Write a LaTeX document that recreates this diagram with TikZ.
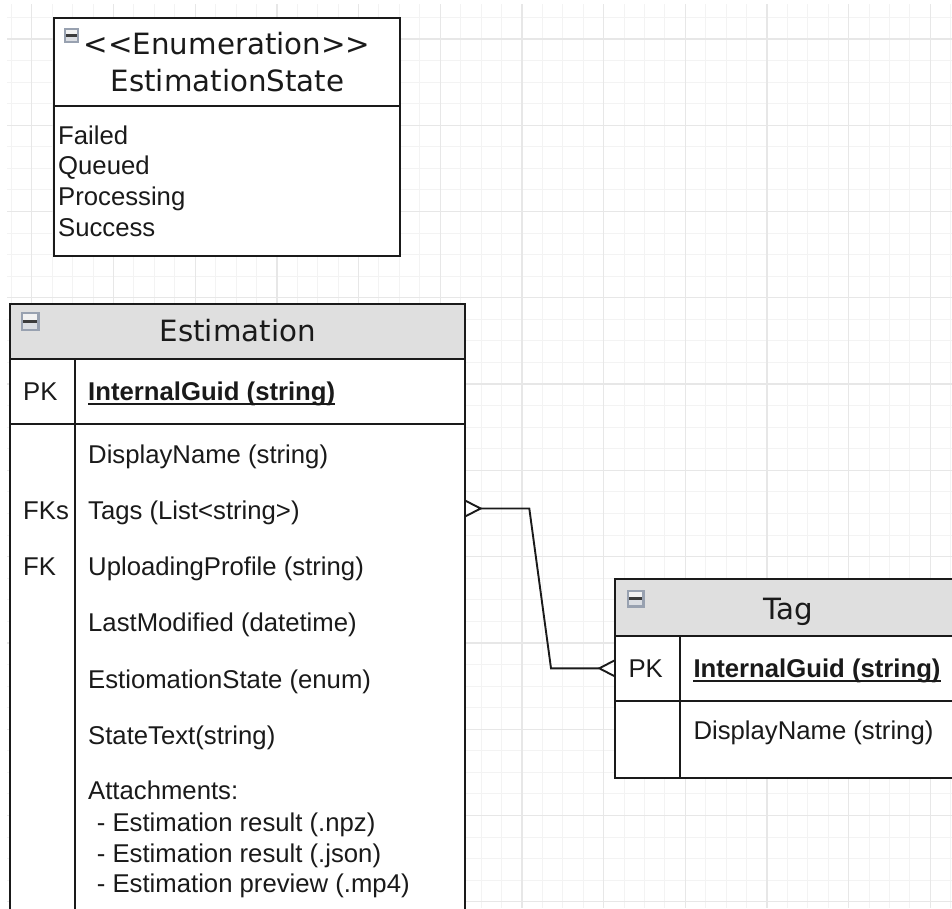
\documentclass[tikz,border=0pt]{standalone}
\usepackage{fontspec}
\setmainfont{Liberation Sans}
\newfontfamily\hdrfont{DejaVu Sans}
\usetikzlibrary{calc}
\definecolor{minorgrid}{HTML}{F3F3F3}
\definecolor{majorgrid}{HTML}{E7E7E7}
\definecolor{hdrgray}{HTML}{DFDFDF}
\definecolor{ink}{HTML}{1A1A1A}
\definecolor{iconborder}{HTML}{98A1B0}
\definecolor{iconfill}{HTML}{C3C8D1}
\tikzset{
  bodytext/.style={anchor=base west, inner sep=0pt, font=\fontsize{25.7}{30}\selectfont, text=ink},
  boldtext/.style={bodytext, font=\fontsize{25.7}{30}\selectfont\bfseries},
  titletext/.style={anchor=base, inner sep=0pt, font=\hdrfont\fontsize{29.3}{34}\selectfont, text=ink},
  border/.style={draw=ink, line width=1.9pt},
  conn/.style={draw=ink, line width=1.9pt, line join=miter},
  gridminor/.style={draw=minorgrid, line width=1pt},
  gridmajor/.style={draw=majorgrid, line width=1.3pt},
  pics/minusicon/.style={code={
    \fill[iconborder] (0,0) rectangle (#1,#1);
    \fill[white!95!black] ({0.14*#1},{0.12*#1}) rectangle ({0.86*#1},{0.5*#1});
    \fill[iconfill!60!white] ({0.14*#1},{0.5*#1}) rectangle ({0.86*#1},{0.88*#1});
    \fill[ink!85] ({0.14*#1},{0.42*#1}) rectangle ({0.86*#1},{0.58*#1});
  }}
}
\begin{document}
\begin{tikzpicture}[x=1pt,y=-1pt]
\useasboundingbox (0,0) rectangle (952,908);
\fill[white] (0,0) rectangle (952,908);
% grid
\begin{scope}
\clip (7,4) rectangle (952,908);
\foreach \k in {0,...,46} \draw[gridminor] ({11.4+20.42*\k},4) -- ++(0,904);
\foreach \k in {0,...,42} \draw[gridminor] (7,{17.4+21.57*\k}) -- ++(945,0);
\foreach \k in {0,...,11} \draw[gridmajor] ({31.82+81.68*\k},4) -- ++(0,904);
\foreach \k in {0,...,10} \draw[gridmajor] (7,{38.97+86.28*\k}) -- ++(945,0);
\end{scope}

% ---------- Enumeration ----------
\node[fill=white, inner sep=0pt, outer sep=0pt, minimum width=346pt, minimum height=237.7pt, anchor=north west] (enum) at (54,18.3) {};
\draw[border] (enum.west |- 0,106) -- (enum.east |- 0,106);
\draw[border] (enum.north west) rectangle (enum.south east);
\pic at (64,28) {minusicon=15};
\node[titletext] (enumst) at (227,54) {<\kern0pt<Enumeration>\kern0pt>};
\node[titletext] (enumname) at (227.5,91) {EstimationState};
\node[bodytext] (e1) at (58,144) {Failed};
\node[bodytext] (e2) at (58,174.3) {Queued};
\node[bodytext] (e3) at (58,205) {Processing};
\node[bodytext] (e4) at (58,236) {Success};

% ---------- Estimation ----------
\node[fill=white, inner sep=0pt, outer sep=0pt, minimum width=455pt, minimum height=626pt, anchor=north west] (est) at (10,304) {};
\fill[hdrgray] (est.north west) rectangle (est.east |- 0,359.3);
\draw[border] (est.west |- 0,359.3) -- (est.east |- 0,359.3);
\draw[border] (est.west |- 0,424.3) -- (est.east |- 0,424.3);
\draw[border] (75,359.3) -- (75,930);
\draw[border] (est.north west) rectangle (est.south east);
\pic at (20.5,312) {minusicon=19};
\node[titletext] (esttitle) at (237.7,341.7) {Estimation};
\node[bodytext] (estpk) at (23,400.5) {PK};
\node[boldtext] (estguid) at (88,400.5) {InternalGuid (string)};
\draw[ink, line width=1.5pt] ($(estguid.base west)+(0,3.5)$) -- ($(estguid.base east)+(0,3.5)$);
\node[bodytext] (r1) at (88,463.2) {DisplayName (string)};
\node[bodytext] (fks) at (23,519.8) {FKs};
\node[bodytext] (r2) at (88,519.8) {Tags (List<string>)};
\node[bodytext] (fk) at (23,575.5) {FK};
\node[bodytext] (r3) at (88,575.5) {UploadingProfile (string)};
\node[bodytext] (r4) at (88,631.5) {LastModified (datetime)};
\node[bodytext] (r5) at (88,688.2) {EstiomationState (enum)};
\node[bodytext] (r6) at (88,744.8) {StateText(string)};
\node[bodytext] (r7) at (88,799) {Attachments:};
\node[bodytext] (r8) at (96.7,831) {- Estimation result (.npz)};
\node[bodytext] (r9) at (96.7,862.5) {- Estimation result (.json)};
\node[bodytext] (r10) at (96.7,892.5) {- Estimation preview (.mp4)};

% ---------- Tag ----------
\node[fill=white, inner sep=0pt, outer sep=0pt, minimum width=345.7pt, minimum height=199pt, anchor=north west] (tag) at (615.3,579.3) {};
\fill[hdrgray] (tag.north west) rectangle (tag.east |- 0,635.7);
\draw[border] (tag.west |- 0,635.7) -- (tag.east |- 0,635.7);
\draw[border] (tag.west |- 0,700.7) -- (tag.east |- 0,700.7);
\draw[border] (680,635.7) -- (680 ,778.3);
\draw[border] (tag.north west) rectangle (tag.south east);
\pic at (626.5,589.5) {minusicon=18};
\node[titletext] (tagtitle) at (788,619) {Tag};
\node[bodytext] (tagpk) at (628.3,677.5) {PK};
\node[boldtext] (tagguid) at (693.3,677.5) {InternalGuid (string)};
\draw[ink, line width=1.5pt] ($(tagguid.base west)+(0,3.5)$) -- ($(tagguid.base east)+(0,3.5)$);
\node[bodytext] (tagdn) at (693.3,739.3) {DisplayName (string)};

% ---------- connector ----------
\coordinate (cfA) at (480.7,508.5);
\coordinate (bendA) at (529.3,508.5);
\coordinate (bendB) at (551,668.3);
\coordinate (cfB) at (599.3,668.3);
\draw[conn] ($(est.east |- cfA)+(0,-8)$) -- (cfA) -- ($(est.east |- cfA)+(0,8)$);
\draw[conn] (cfA) -- (bendA) -- (bendB) -- (cfB);
\draw[conn] ($(tag.west |- cfB)+(0,-8.3)$) -- (cfB) -- ($(tag.west |- cfB)+(0,8.3)$);
\end{tikzpicture}
\end{document}
